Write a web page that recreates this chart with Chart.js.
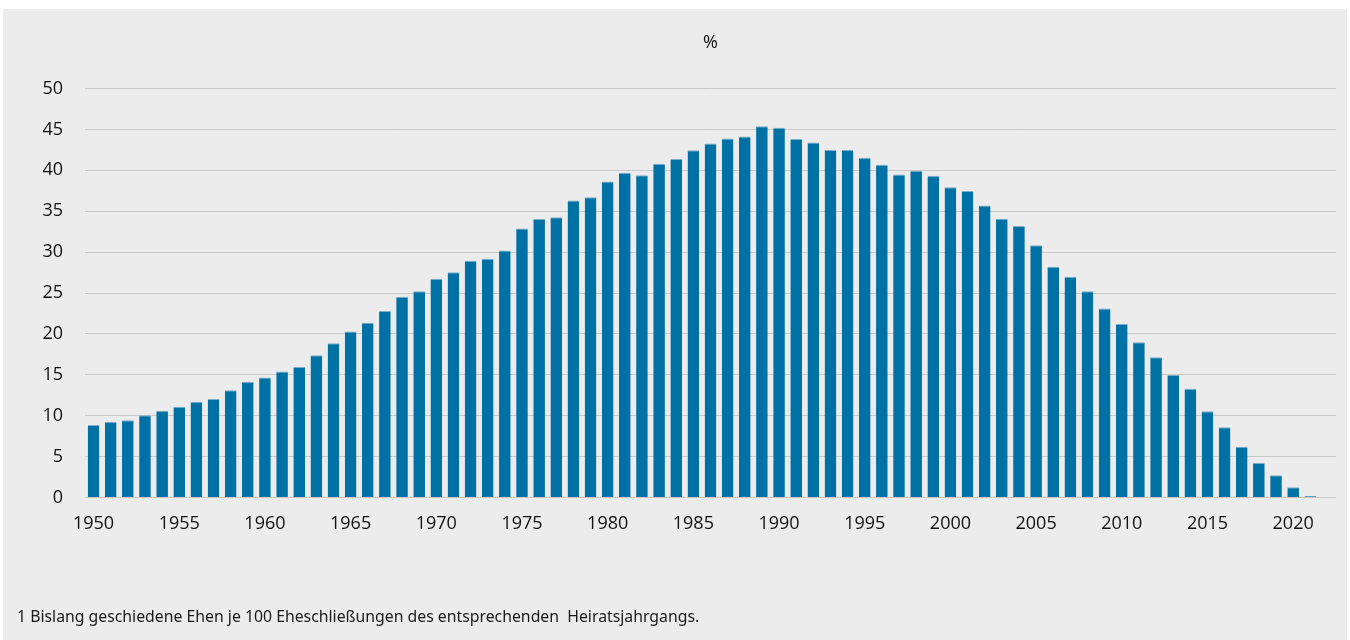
<!DOCTYPE html>
<html lang="de">
<head>
<meta charset="utf-8">
<title>Geschiedene Ehen je 100 Eheschließungen</title>
<script src="https://cdn.jsdelivr.net/npm/chart.js@4.4.1/dist/chart.umd.min.js"></script>
<style>
  html, body { margin: 0; padding: 0; background: #ffffff; }
  #wrap { position: relative; width: 1350px; height: 640px; overflow: hidden; }
  #panel { position: absolute; left: 3px; top: 9px; width: 1344px; height: 631px; background: #ececec; }
  #chartBox { position: absolute; left: 0; top: 0; width: 1350px; height: 640px; }
  #note {
    position: absolute; left: 17px; top: 605px;
    font-family: "Noto Sans", "Open Sans", sans-serif; font-size: 15.8px; color: #1a1a1a;
    white-space: pre;
  }
</style>
</head>
<body>
<div id="wrap">
  <div id="panel"></div>
  <div id="chartBox"><canvas id="divorceChart" width="1350" height="640"></canvas></div>
  <div id="note">1 Bislang geschiedene Ehen je 100 Eheschließungen des entsprechenden  Heiratsjahrgangs.</div>
</div>
<script>
// Heiratsjahrgänge 1950 bis 2022
const years = [];
for (let y = 1950; y <= 2022; y++) years.push(String(y));

// Bislang geschiedene Ehen je 100 Eheschließungen (in %)
const geschieden = [
  8.85, 9.25, 9.45, 10.05, 10.6, 11.1, 11.7, 12.05, 13.1, 14.15,       // 1950-1959
  14.65, 15.4, 15.95, 17.4, 18.85, 20.3, 21.35, 22.8, 24.55, 25.2,     // 1960-1969
  26.75, 27.55, 28.95, 29.2, 30.2, 32.9, 34.05, 34.25, 36.3, 36.7,     // 1970-1979
  38.65, 39.7, 39.4, 40.8, 41.4, 42.45, 43.3, 43.9, 44.15, 45.4,       // 1980-1989
  45.2, 43.85, 43.4, 42.5, 42.5, 41.55, 40.7, 39.5, 39.95, 39.35,      // 1990-1999
  37.93, 37.47, 35.7, 34.08, 33.18, 30.85, 28.2, 27.0, 25.2, 23.1,     // 2000-2009
  21.2, 18.98, 17.14, 14.98, 13.3, 10.55, 8.58, 6.18, 4.2, 2.72,       // 2010-2019
  1.25, 0.18, 0.05                                                     // 2020-2022
];

const yTicks = [0, 5, 10, 15, 20, 25, 30, 35, 40, 45, 50];
const titel = '%';

const tickFont = { family: "'Open Sans', 'Noto Sans', sans-serif", size: 18 };

const ctx = document.getElementById('divorceChart');

new Chart(ctx, {
  type: 'bar',
  data: {
    labels: years,
    datasets: [{
      label: 'Geschiedene Ehen je 100 Eheschließungen',
      data: geschieden,
      backgroundColor: '#0071a4',
      borderColor: 'rgba(110,165,200,0.9)',
      borderWidth: { top: 1, left: 0, right: 0, bottom: 0 },
      borderSkipped: 'bottom',
      barPercentage: 0.68,
      categoryPercentage: 1.0
    }]
  },
  options: {
    responsive: false,
    animation: false,
    devicePixelRatio: 1,
    layout: {
      padding: { left: 43, right: 14, top: 0, bottom: 89 }
    },
    plugins: {
      legend: { display: false },
      tooltip: { enabled: false },
      title: {
        display: true,
        text: titel,
        fullSize: false,
        color: '#111111',
        font: { family: "'Open Sans', 'Noto Sans', sans-serif", size: 18, weight: 'normal' },
        padding: { top: 32, bottom: 35 }
      }
    },
    scales: {
      x: {
        grid: { display: false, drawTicks: false },
        border: { display: false },
        ticks: {
          color: '#111111',
          font: tickFont,
          padding: 16,
          autoSkip: false,
          maxRotation: 0,
          callback: function(value, index) {
            const y = years[index];
            return (Number(y) % 5 === 0) ? y : '';
          }
        },
        afterFit: function(scale) {
          // keine zusätzliche Randreserve für Beschriftungen
          scale.paddingLeft = 0;
          scale.paddingRight = 0;
        }
      },
      y: {
        min: 0,
        max: 50,
        afterBuildTicks: function(axis) {
          axis.ticks = yTicks.map(v => ({ value: v }));
        },
        grid: { color: '#c8c8c8', lineWidth: 1, drawTicks: false },
        border: { display: false },
        ticks: {
          color: '#111111',
          font: tickFont,
          padding: 22
        },
        afterFit: function(scale) {
          scale.paddingTop = 0;
          scale.paddingBottom = 0;
          scale.width = 42;
        }
      }
    }
  }
});
</script>
</body>
</html>
